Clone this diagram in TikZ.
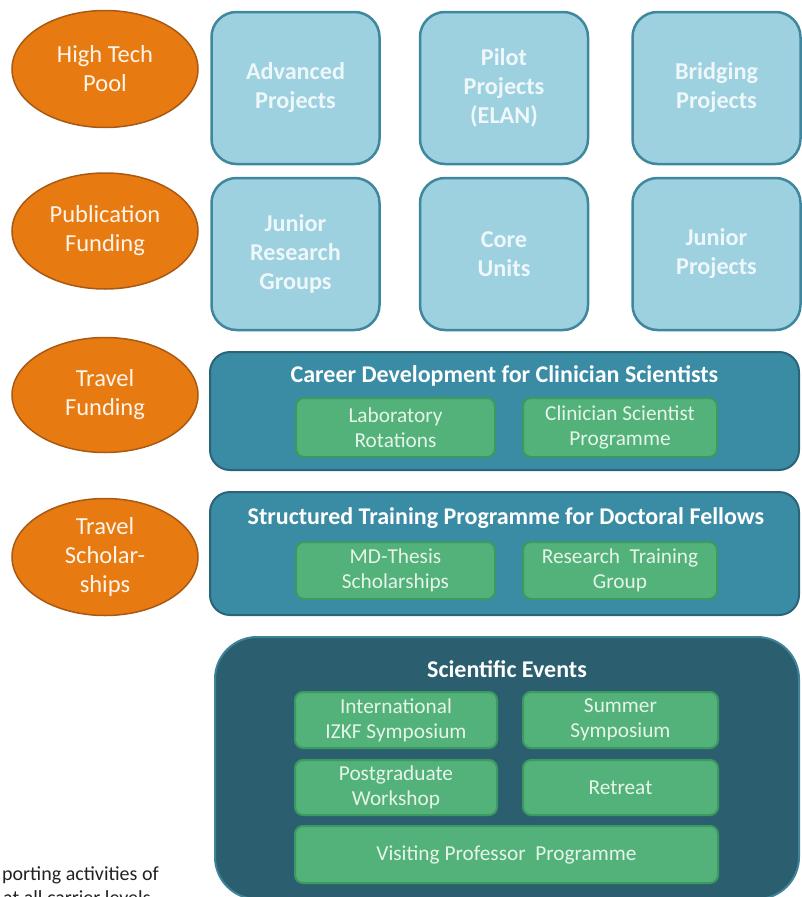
\documentclass[tikz,border=0pt]{standalone}
\usepackage{fontspec}
\setmainfont{Carlito}
\usetikzlibrary{shapes.geometric}
\definecolor{orfill}{HTML}{E87A12}
\definecolor{ordraw}{HTML}{A85A14}
\definecolor{ortext}{HTML}{FFF4EA}
\definecolor{lbfill}{HTML}{9DD1E0}
\definecolor{lbdraw}{HTML}{3F879E}
\definecolor{lbtext}{HTML}{EEF7FA}
\definecolor{tlfill}{HTML}{3A8BA4}
\definecolor{tldraw}{HTML}{2B6478}
\definecolor{dkfill}{HTML}{2B5F70}
\definecolor{dkdraw}{HTML}{3F8397}
\definecolor{gnfill}{HTML}{52B279}
\definecolor{gndraw}{HTML}{3C9A60}
\definecolor{gntext}{HTML}{E6F4EA}
\definecolor{captext}{HTML}{222222}
\tikzset{
  fundoval/.style={ellipse, fill=orfill, draw=ordraw, line width=1.5pt, inner sep=0pt,
    align=center, text=ortext, font=\fontsize{24.5}{29}\selectfont},
  projbox/.style={rectangle, rounded corners=25pt, fill=lbfill, draw=lbdraw, line width=2.5pt,
    minimum width=168pt, minimum height=152pt, align=center, text=lbtext,
    font=\fontsize{24.2}{29}\selectfont\bfseries},
  progbox/.style={rectangle, rounded corners=20pt, fill=tlfill, draw=tldraw, line width=2pt,
    minimum width=589pt, inner sep=0pt},
  eventbox/.style={rectangle, rounded corners=42pt, fill=dkfill, draw=dkdraw, line width=2pt,
    minimum width=584pt, minimum height=262pt, inner sep=0pt},
  progtitle/.style={anchor=base, text=white, font=\fontsize{24}{28}\selectfont\bfseries, inner sep=0pt},
  itembox/.style={rectangle, rounded corners=8pt, fill=gnfill, draw=gndraw, line width=2pt,
    align=center, text=gntext, inner sep=0pt, font=\fontsize{21.3}{25}\selectfont},
  captxt/.style={anchor=base west, inner sep=0pt, text=captext, font=\fontsize{20}{24}\selectfont}
}
\begin{document}
\begin{tikzpicture}[x=1pt,y=-1pt]
\useasboundingbox (0,0) rectangle (802,897);
\clip (0,0) rectangle (802,897);
% funding ovals
\node[fundoval, minimum width=186pt, minimum height=117pt] (htp) at (105,69) {High Tech\\Pool};
\node[fundoval, minimum width=186pt, minimum height=116pt] (pub) at (105,231) {Publication\\Funding};
\node[fundoval, minimum width=186pt, minimum height=115pt] (trf) at (105,395) {Travel\\Funding};
\node[fundoval, minimum width=186pt, minimum height=117pt] (trs) at (105,557) {Travel\\Scholar-\\ships};
% project boxes
\node[projbox] (adv) at (295.5,88) {Advanced\\Projects};
\node[projbox] (pil) at (504,88) {Pilot\\Projects\\(ELAN)};
\node[projbox] (brd) at (716.5,88) {Bridging\\Projects};
\node[projbox] (jrg) at (295.5,254) {Junior\\Research\\Groups};
\node[projbox] (cor) at (504,254) {Core\\Units};
\node[projbox] (jpr) at (716.5,254) {Junior\\Projects};
% career development
\node[progbox, minimum height=118pt] (car) at (504.5,411) {};
\node[progtitle] (cart) at (504.5,382) {Career Development for Clinician Scientists};
\node[itembox, minimum width=199pt, minimum height=59pt] (lab) at (395.5,427.5) {Laboratory\\Rotations};
\node[itembox, minimum width=194pt, minimum height=59pt] (csp) at (620,427.5) {Clinician Scientist\\Programme};
% structured training
\node[progbox, minimum height=123pt] (stp) at (504.5,553.5) {};
\node[progtitle] (stpt) at (506,524) {Structured Training Programme for Doctoral Fellows};
\node[itembox, minimum width=199pt, minimum height=57pt] (mdt) at (395.5,570.5) {MD-Thesis\\Scholarships};
\node[itembox, minimum width=194pt, minimum height=57pt] (rtg) at (620,570.5) {Research~ Training\\Group};
% scientific events
\node[eventbox] (sev) at (507,768) {};
\node[progtitle] (sevt) at (507,677) {Scientific Events};
\node[itembox, minimum width=202pt, minimum height=56pt] (izkf) at (396,720) {International\\IZKF Symposium};
\node[itembox, minimum width=195pt, minimum height=56pt] (sum) at (620.5,720) {Summer\\Symposium};
\node[itembox, minimum width=202pt, minimum height=55pt] (pgw) at (396,787.5) {Postgraduate\\Workshop};
\node[itembox, minimum width=195pt, minimum height=55pt] (ret) at (620.5,787.5) {Retreat};
\node[itembox, minimum width=423pt, minimum height=57pt] (vpp) at (506.5,854.5) {Visiting Professor~ Programme};
% cut-off caption
\node[captxt] (cap1) at (2,880) {porting activities of};
\node[captxt] (cap2) at (3,904) {at all carrier levels};
\end{tikzpicture}
\end{document}
